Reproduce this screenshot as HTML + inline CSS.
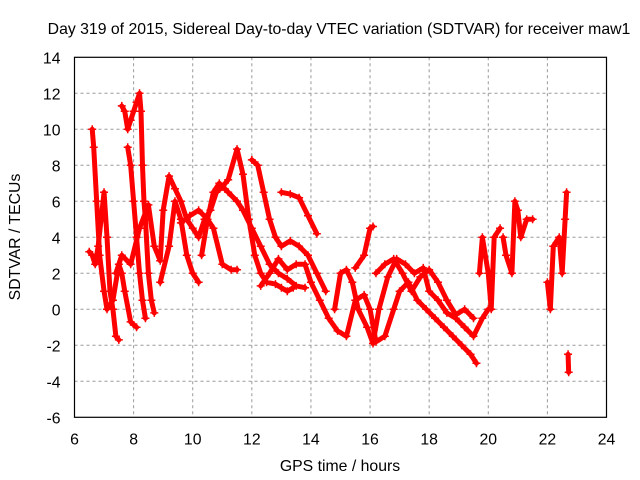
<!DOCTYPE html>
<html><head><meta charset="utf-8"><style>
body{margin:0;background:#fff;}
svg{display:block;font-family:"Liberation Sans",Arial,sans-serif;}
</style></head><body>
<svg id="chart" width="640" height="480" viewBox="0 0 640 480">
<rect width="640" height="480" fill="#fff"/>
<text x="339" y="34" font-size="15.8" text-anchor="middle" fill="#000">Day 319 of 2015, Sidereal Day-to-day VTEC variation (SDTVAR) for receiver maw1</text>
<g id="grid"></g>
<g id="series"></g>
<rect x="74.5" y="57.3" width="532" height="360" fill="none" stroke="#000" stroke-width="1.2"/>
<g id="ticks"></g>
<text x="340" y="471" font-size="15.8" text-anchor="middle">GPS time / hours</text>
<text transform="translate(20,237) rotate(-90)" font-size="15.8" text-anchor="middle">SDTVAR / TECUs</text>
</svg>
<script>
const xTicks=[6,8,10,12,14,16,18,20,22,24];
const yTicks=[-6,-4,-2,0,2,4,6,8,10,12,14];
const s1=[[6.5,3.2],[6.6,3],[6.7,2.5],[6.8,3.5],[6.9,5],[7.0,6.5],[7.1,4],[7.2,1],[7.3,0],[7.4,-1.5],[7.5,-1.7]];
const s2=[[6.6,10],[6.65,9],[6.75,6],[6.85,3],[7.0,1],[7.1,0],[7.3,0.5],[7.5,2.5],[7.6,2],[7.7,1],[7.9,-0.7],[8.1,-1]];
const s3=[[7.6,11.3],[7.7,11],[7.8,10],[7.9,10.5],[8.0,11],[8.1,11.5],[8.2,12],[8.25,11],[8.3,8],[8.35,6],[8.4,5],[8.5,2],[8.6,0.5],[8.7,-0.2]];
const s4=[[7.8,9],[7.9,8],[8.0,6],[8.1,4],[8.2,2],[8.3,0.5],[8.4,-0.5]];
const s5=[[7.4,2],[7.6,3],[7.9,2.5],[8.2,4.5],[8.5,5.8],[8.7,3.5],[8.9,2.7],[9.0,5.5],[9.2,7.4],[9.4,6.7],[9.6,6],[9.8,5],[10.0,4.5],[10.2,4],[10.4,5],[10.6,5.5],[10.8,6.5],[11.0,6.8],[11.2,7.2],[11.5,8.9],[11.7,7.5],[11.9,5],[12.1,3],[12.3,2],[12.5,1.5],[12.8,1.4],[13.0,1.2],[13.2,1],[13.4,1.2]];
const s6=[[8.9,1.5],[9.2,3.5],[9.4,6],[9.6,5],[9.8,3],[10.0,2],[10.2,1.5]];
const s7=[[9.6,4.8],[9.9,5.2],[10.2,5.5],[10.5,5],[10.7,4.5],[11.0,2.5],[11.3,2.2],[11.5,2.2]];
const s8=[[10.3,3],[10.5,5],[10.7,6.5],[10.9,7],[11.2,6.5],[11.5,6],[11.7,5.5],[12.0,4.5],[12.3,3.5],[12.6,2.5],[12.9,2],[13.2,1.7],[13.5,1.3],[13.8,1.2]];
const s9=[[12.0,8.3],[12.2,8],[12.4,6.5],[12.6,5],[12.8,4],[13.0,3.5],[13.3,3.8],[13.6,3.5],[13.9,3],[14.2,2],[14.5,1]];
const s10=[[13.0,6.5],[13.3,6.4],[13.6,6.2],[13.9,5.2],[14.2,4.2]];
const s11=[[12.3,1.3],[12.6,2],[12.9,2.8],[13.2,2.2],[13.5,2.5],[13.8,2.5],[14.0,1.5],[14.3,0.5],[14.6,-0.5],[14.9,-1.2],[15.2,-1.5],[15.5,0.5],[15.8,0.8],[16.0,0],[16.2,-1.8],[16.5,-1.5],[16.8,0],[17.0,1],[17.3,1.5],[17.6,0.5],[17.9,0],[18.2,-0.5],[18.5,-1],[18.8,-1.5],[19.1,-2],[19.4,-2.5],[19.6,-3]];
const s12=[[14.8,0],[15.0,2],[15.2,2.2],[15.4,1.5],[15.6,0],[15.9,-1],[16.1,-1.9],[16.3,0],[16.6,1.8],[16.9,2.8],[17.2,2.5],[17.5,2],[17.8,2.3],[18.0,1],[18.3,0.5],[18.6,-0.2],[18.9,-0.5],[19.2,-1],[19.5,-1.5],[19.8,-0.5],[20.0,0]];
const s13=[[15.5,2.3],[15.8,3],[16.0,4.5],[16.1,4.6]];
const s14=[[16.2,2],[16.5,2.5],[16.8,2.8],[17.1,2],[17.4,1],[17.7,1.8],[18.0,2.2],[18.3,1.5],[18.6,0.5],[18.9,-0.3],[19.2,0],[19.5,-0.5]];
const s15=[[19.7,2],[19.8,4],[20.0,2],[20.1,0],[20.2,4],[20.4,4.5]];
const s16=[[20.5,4],[20.6,3],[20.8,2],[20.9,6],[21.0,5.5],[21.1,4],[21.3,5],[21.5,5]];
const s17=[[22.0,1.5],[22.1,0],[22.2,3.5],[22.4,4],[22.5,2],[22.6,5],[22.65,6.5]];
const s18=[[22.7,-2.5],[22.72,-3.5]];
const allSeries=[s1,s2,s3,s4,s5,s6,s7,s8,s9,s10,s11,s12,s13,s14,s15,s16,s17,s18];
const NS='http://www.w3.org/2000/svg';
const X0=74.5,X1=606.5,Y0=417.3,Y1=57.3;
function xs(h){return X0+(h-6)/(24-6)*(X1-X0);}
function ys(v){return Y0-(v+6)/(14+6)*(Y0-Y1);}
const grid=document.getElementById('grid'),ticks=document.getElementById('ticks'),ser=document.getElementById('series');
function mk(t,a,p){const e=document.createElementNS(NS,t);for(const k in a)e.setAttribute(k,a[k]);p.appendChild(e);return e;}
xTicks.forEach(t=>{const x=xs(t);
 if(t>6&&t<24){const g=mk('line',{x1:x,x2:x,y1:Y1,y2:Y0,stroke:'#999','stroke-dasharray':'3,3','stroke-width':1},grid);
 
 }
 const l=mk('text',{x:x,y:Y0+27,'font-size':15.8,'text-anchor':'middle'},ticks);l.textContent=t;
 
 
});
yTicks.forEach(t=>{const y=ys(t);
 if(t>-6&&t<14){const g=mk('line',{x1:X0,x2:X1,y1:y,y2:y,stroke:'#999','stroke-dasharray':'3,3','stroke-width':1},grid);
 
 }
 const l=mk('text',{x:X0-14,y:y+6,'font-size':15.8,'text-anchor':'end'},ticks);l.textContent=t;
 
 
});
allSeries.forEach((s,i)=>{
 const pl=mk('polyline',{points:s.map(p=>xs(p[0])+','+ys(p[1])).join(' '),fill:'none',stroke:'#f00','stroke-width':5,'stroke-linejoin':'round','stroke-linecap':'round'},ser);
 
 
 s.forEach(p=>{const x=xs(p[0]),y=ys(p[1]);
  const m=mk('path',{d:`M${x-4},${y}H${x+4}M${x},${y-4}V${y+4}`,stroke:'#f00','stroke-width':1.5},ser);
  
  
 });
});
</script>
</body></html>
